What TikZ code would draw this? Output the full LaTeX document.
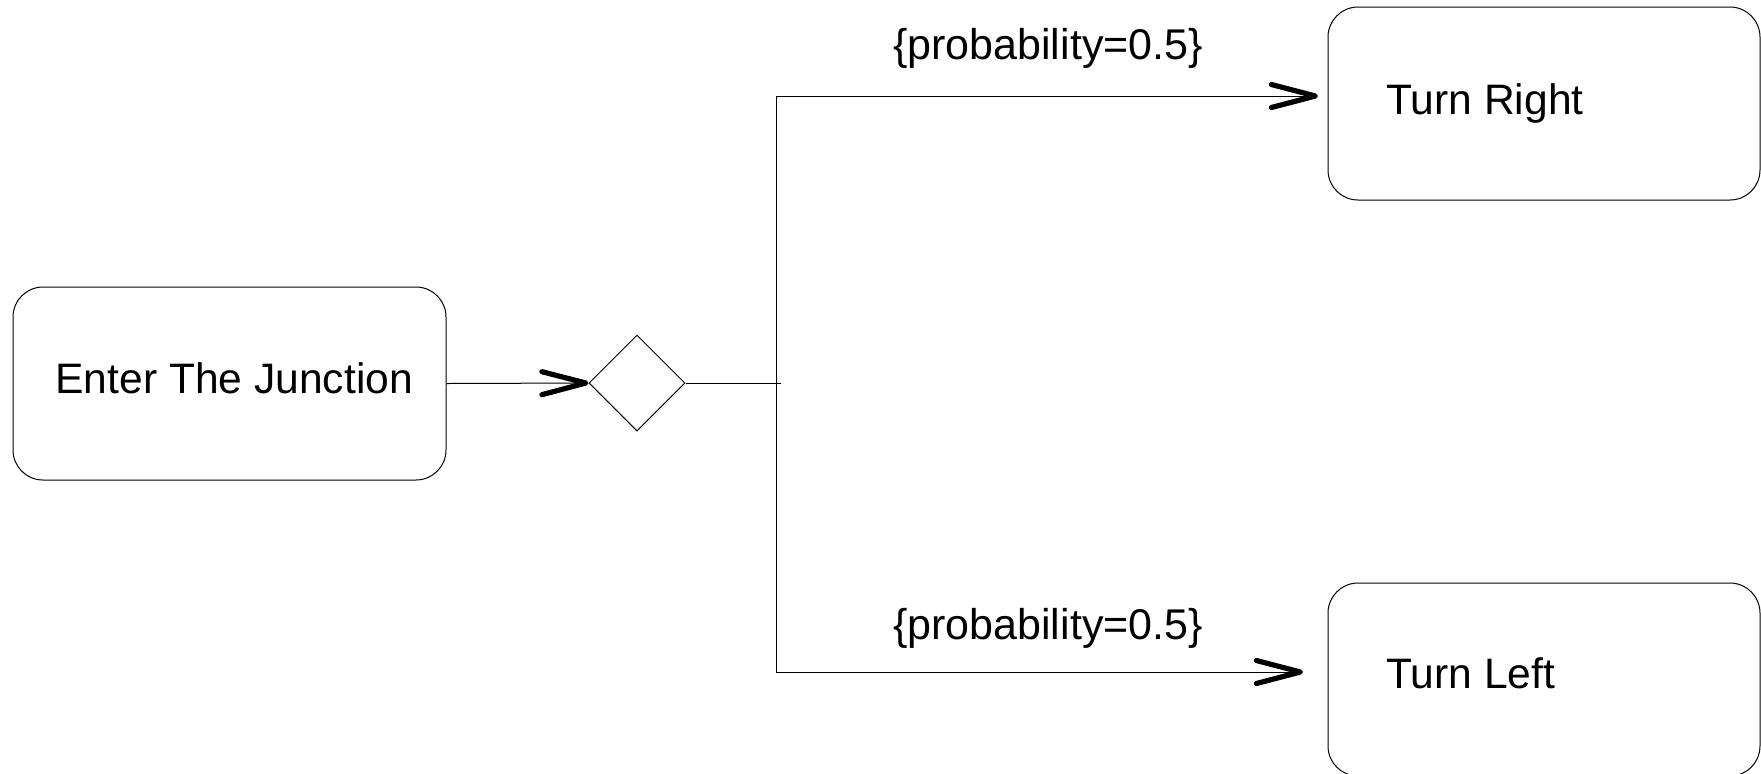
\documentclass[tikz,border=0pt]{standalone}
\usepackage{fontspec}
\setmainfont{Liberation Sans}
\usetikzlibrary{arrows.meta,shapes.geometric}

\begin{document}
\begin{tikzpicture}[x=0.5pt,y=-0.5pt,
  state/.style={draw, line width=0.5pt, rounded corners=15pt,
    minimum width=216pt, minimum height=96.5pt, inner sep=0pt},
  choice/.style={draw, diamond, line width=0.5pt, inner sep=0pt,
    minimum width=48pt, minimum height=48pt},
  txt/.style={font=\fontsize{21.3}{26}\selectfont, inner sep=0pt, anchor=base west},
  guard/.style={font=\fontsize{21.5}{25}\selectfont, inner sep=0pt, anchor=base},
  wire/.style={line width=0.5pt},
  flow/.style={wire, -{Straight Barb[length=22pt,width=11.5pt,line width=2.6pt,round]}}]

  \useasboundingbox (0,0) rectangle (1761,773);

  % activity states
  \node[state, minimum width=216.5pt] (enter) at (229.5,383.5) {};
  \node[state] (right) at (1544,103.5) {};
  \node[state] (left)  at (1544,679.5) {};

  \node[txt] (tEnter) at (55,393)  {Enter The Junction};
  \node[txt] (tRight) at (1386,114) {Turn Right};
  \node[txt] (tLeft)  at (1386,688) {Turn Left};

  % decision
  \node[choice] (dec) at (637,383) {};

  % branch points
  \coordinate (split) at (776,383);
  \coordinate (stub)  at (781,383);
  \coordinate (inR)   at (1318,96);
  \coordinate (inL)   at (1303,672);

  % connectors
  \draw[flow] (enter.east) -- (dec.west);
  \draw[wire] (dec.east) -- (stub);
  \draw[flow] (split) |- (inR);
  \draw[flow] (split) |- (inL);

  % guards
  \node[guard] (gR) at (1048,59)  {\{probability=0.5\}};
  \node[guard] (gL) at (1048,639) {\{probability=0.5\}};
\end{tikzpicture}
\end{document}
